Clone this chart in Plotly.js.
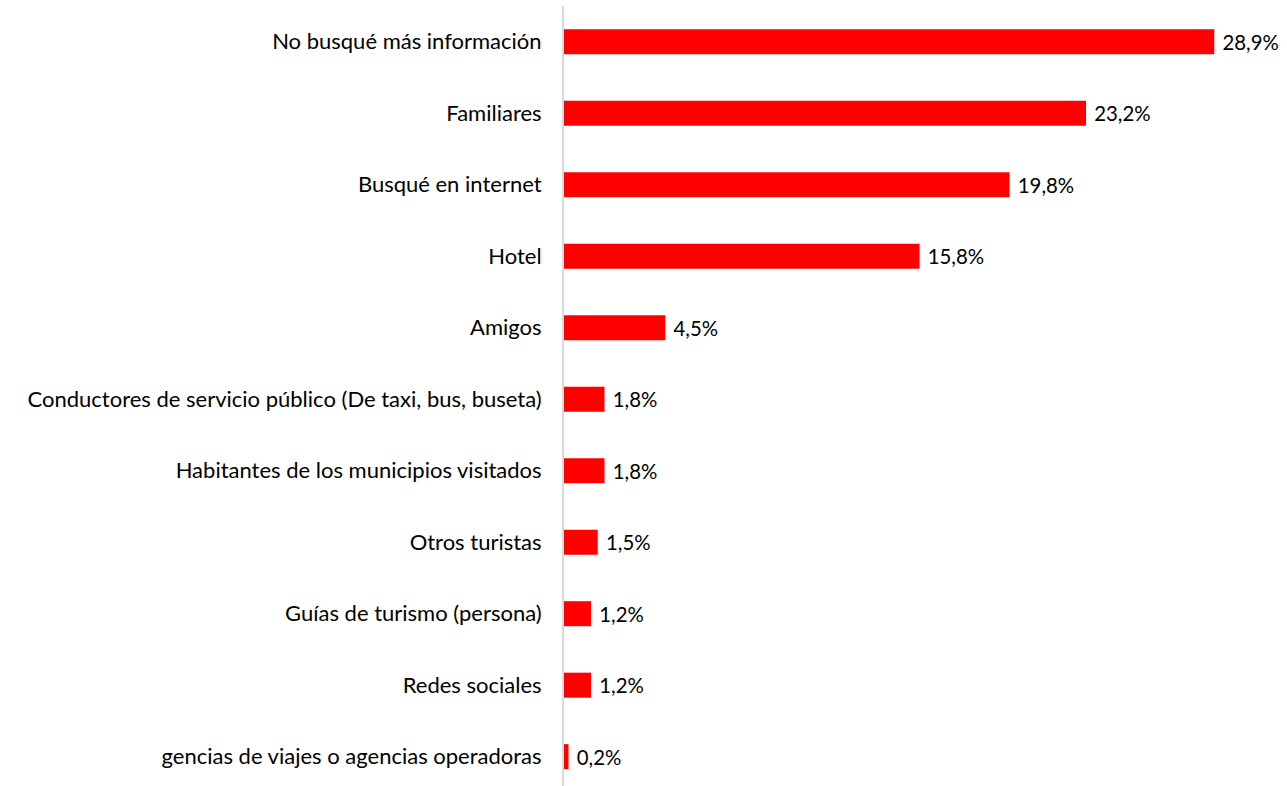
<!DOCTYPE html>
<html>
<head>
<meta charset="utf-8">
<script src="https://cdn.plot.ly/plotly-3.0.1.min.js"></script>
<style>html,body{margin:0;padding:0;background:#fff;}#chart{width:1287px;height:786px;}</style>
</head>
<body>
<div id="chart"></div>
<script>
const categories = [
  "No busqué más información",
  "Familiares",
  "Busqué en internet",
  "Hotel",
  "Amigos",
  "Conductores de servicio público (De taxi, bus, buseta)",
  "Habitantes de los municipios visitados",
  "Otros turistas",
  "Guías de turismo (persona)",
  "Redes sociales",
  "gencias de viajes o agencias operadoras"
];
const values = [28.9, 23.2, 19.8, 15.8, 4.5, 1.8, 1.8, 1.5, 1.2, 1.2, 0.2];
const valueLabels = values.map(v => v.toFixed(1).replace('.', ',') + '%');

const FONT = 'Lato, "Open Sans", sans-serif';

const trace = {
  type: 'bar',
  orientation: 'h',
  y: categories,
  x: values,
  text: valueLabels,
  texttemplate: '\u00a0%{text}',
  textposition: 'outside',
  cliponaxis: false,
  textfont: {family: FONT, size: 22, color: '#000'},
  marker: {color: '#ff0000'},
  width: 0.35,
  hoverinfo: 'none'
};

const layout = {
  width: 1287,
  height: 786,
  margin: {l: 564, r: 3, t: 6, b: 0},
  paper_bgcolor: '#fff',
  plot_bgcolor: '#fff',
  showlegend: false,
  font: {family: FONT, size: 22, color: '#000'},
  xaxis: {
    range: [0, 32],
    visible: false,
    showgrid: false,
    zeroline: false,
    fixedrange: true
  },
  yaxis: {
    type: 'category',
    range: [10.41, -0.5],
    showgrid: false,
    zeroline: false,
    showline: true,
    linecolor: '#d9d9d9',
    linewidth: 2,
    ticks: '',
    ticklabelstandoff: 16,
    tickfont: {family: FONT, size: 22, color: '#000'},
    fixedrange: true
  }
};

Plotly.newPlot('chart', [trace], layout, {staticPlot: true, displayModeBar: false});
</script>
</body>
</html>
